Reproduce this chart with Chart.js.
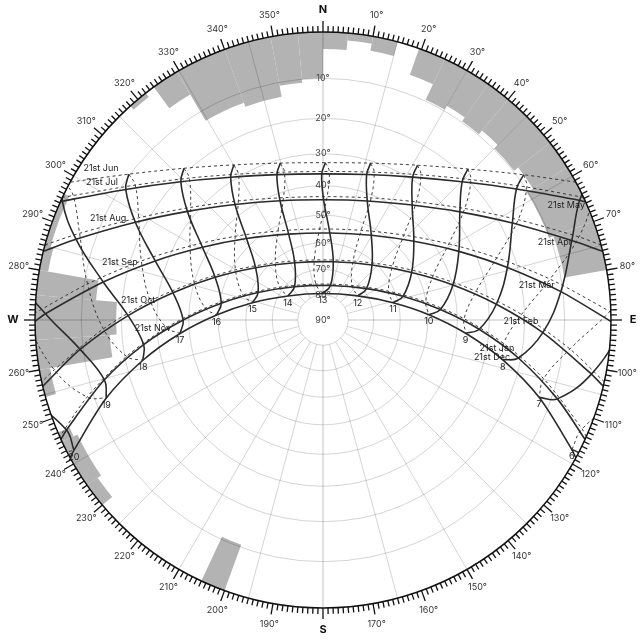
<!DOCTYPE html>
<html>
<head>
<meta charset="utf-8">
<script src="https://cdn.jsdelivr.net/npm/chart.js@4.4.1/dist/chart.umd.min.js"></script>
<style>
  html, body { margin: 0; background: #fff; }
  #wrap { width: 641px; height: 642px; }
</style>
</head>
<body>
<div id="wrap"><canvas id="chart" width="641" height="642"></canvas></div>
<script>
// Sun path diagram, stereographic projection: azimuth clockwise from north,
// altitude 0 on the outer circle and 90 in the centre.

const months = ["Jan", "Feb", "Mar", "Apr", "May", "Jun", "Jul", "Aug", "Sep", "Oct", "Nov", "Dec"];
const hours = [6, 7, 8, 9, 10, 11, 12, 13, 14, 15, 16, 17, 18, 19, 20];

// sun azimuth on the 21st of each month, one column per hour above
const sunAz = [
  [116.8, 108.6, 101.0, 93.4, 84.9, 73.5, 54.2, 12.2, 319.4, 293.0, 279.4, 270.0, 262.2, 254.7, 246.8],
  [110.0, 101.4, 93.3, 84.8, 74.9, 61.8, 41.7, 10.0, 333.7, 307.8, 291.6, 280.3, 271.3, 263.1, 254.8],
  [100.3, 91.7, 83.2, 74.1, 63.2, 49.1, 29.7, 4.5, 338.2, 316.8, 301.1, 289.4, 279.8, 271.3, 262.8],
  [88.8, 80.7, 72.3, 62.9, 51.7, 37.8, 20.4, 0.3, 340.2, 322.7, 308.7, 297.5, 288.1, 279.7, 271.6],
  [80.6, 73.1, 65.0, 55.9, 45.2, 32.1, 16.7, 359.5, 342.4, 327.1, 314.2, 303.5, 294.5, 286.6, 279.1],
  [77.8, 70.6, 62.9, 54.1, 43.8, 31.4, 16.9, 0.9, 344.8, 330.1, 317.5, 306.9, 298.0, 290.2, 283.0],
  [81.0, 73.6, 65.7, 56.9, 46.5, 34.0, 19.1, 2.4, 345.4, 329.9, 316.7, 305.7, 296.5, 288.5, 280.9],
  [88.3, 80.3, 72.0, 62.8, 51.8, 38.3, 21.5, 1.9, 342.1, 324.6, 310.4, 299.0, 289.6, 281.1, 273.1],
  [96.7, 88.3, 79.8, 70.3, 58.8, 43.6, 23.1, 357.9, 333.2, 313.6, 299.1, 288.0, 278.7, 270.2, 261.7],
  [104.9, 96.7, 88.4, 79.4, 68.1, 52.2, 27.0, 351.8, 320.2, 299.8, 286.3, 276.3, 267.7, 259.5, 251.0],
  [112.8, 104.9, 97.4, 89.5, 80.0, 66.2, 39.9, 348.7, 307.1, 287.4, 275.8, 267.2, 259.5, 251.9, 243.7],
  [117.5, 109.7, 102.5, 95.3, 87.1, 76.1, 55.2, 359.5, 304.4, 283.8, 272.7, 264.6, 257.4, 250.2, 242.4]
];
// sun altitude, same layout
const sunAlt = [
  [-2.8, 8.7, 20.7, 33.0, 45.5, 57.7, 68.9, 76.0, 72.7, 62.5, 50.6, 38.2, 25.7, 13.6, 1.8],
  [-9.1, 2.9, 15.2, 27.7, 39.9, 51.5, 61.3, 66.8, 65.0, 57.0, 46.1, 34.2, 21.8, 9.3, -2.9],
  [-14.3, -1.9, 10.5, 22.7, 34.3, 44.7, 52.6, 56.3, 54.4, 47.6, 37.9, 26.6, 14.5, 2.1, -10.3],
  [-18.9, -6.5, 5.6, 17.1, 27.6, 36.4, 42.4, 44.7, 42.5, 36.5, 27.8, 17.4, 5.9, -6.2, -18.6],
  [-22.7, -10.6, 1.0, 11.9, 21.5, 29.3, 34.4, 36.2, 34.2, 28.9, 20.9, 11.2, 0.3, -11.3, -23.5],
  [-25.4, -13.4, -2.0, 8.6, 18.0, 25.6, 30.7, 32.7, 31.1, 26.3, 18.9, 9.7, -0.8, -12.2, -24.1],
  [-25.2, -13.0, -1.4, 9.6, 19.4, 27.4, 33.0, 35.4, 34.1, 29.3, 21.8, 12.5, 1.8, -9.7, -21.7],
  [-20.5, -8.2, 3.9, 15.4, 25.9, 34.8, 41.0, 43.6, 41.9, 36.2, 27.8, 17.6, 6.2, -5.7, -18.1],
  [-12.2, 0.2, 12.6, 24.7, 35.9, 45.7, 52.6, 54.9, 51.8, 44.3, 34.3, 22.9, 10.8, -1.6, -14.0],
  [-3.8, 8.4, 20.8, 33.2, 45.2, 56.0, 64.1, 66.2, 61.0, 51.4, 40.0, 27.8, 15.3, 3.0, -9.0],
  [1.4, 13.2, 25.4, 37.8, 50.2, 62.1, 72.2, 75.5, 68.6, 57.5, 45.3, 32.9, 20.5, 8.5, -3.0],
  [1.5, 12.9, 24.8, 37.1, 49.6, 61.9, 73.3, 79.5, 73.2, 61.7, 49.4, 37.0, 24.7, 12.7, 1.4]
];
// sunrise / sunset azimuth on the 21st
const riseAz = [114.5, 103.3, 90.3, 76.2, 65.8, 61.4, 64.8, 74.9, 88.6, 102.4, 113.9, 118.6];
const setAz = [245.5, 256.7, 269.7, 283.8, 294.2, 298.6, 295.2, 285.1, 271.4, 257.6, 246.1, 241.4];

// horizon obstructions: azimuth from / to, top altitude
const shadeFrom = [0, 5, 10, 19.5, 25, 30, 35, 40, 45, 52, 58, 70, 200, 230, 235, 245, 254.5, 260, 266, 275, 280, 285, 318, 324, 329.5, 340, 349.5, 355];
const shadeTo   = [5, 10, 15, 25, 30, 35, 40, 45, 52, 58, 70, 80, 205, 235, 245, 247, 260, 266, 275, 280, 285, 296, 322, 329.5, 340, 349.5, 355, 360];
const shadeAlt  = [3.5, 1.5, 3, 5.8, 9.7, 8.7, 9.8, 8.7, 9.8, 8.6, 10.3, 9.2, 10.6, 2.6, 3.5, 2.6, 2.2, 16.8, 18.6, 13.3, 1.8, 1.2, 1, 5.5, 12.5, 13.5, 10.8, 10];

// where each date label sits (azimuth, altitude)
const labelAz  = [99.1, 90.3, 80.7, 71.4, 64.7, 304.4, 302.0, 295.4, 285.9, 276.2, 267.3, 102.4];
const labelAlt = [27.1, 21.0, 16.1, 9.3, 3.9, 3.9, 5.7, 10.9, 17.5, 24.3, 28.8, 28.0];

const rad = Math.PI / 180;
const FONT = "Inter, 'DejaVu Sans', sans-serif";

function proj(az, alt) {
  const r = Math.tan((90 - alt) / 2 * rad);
  return { x: r * Math.sin(az * rad), y: r * Math.cos(az * rad) };
}

// Dec 21 -> Jun 21 solid, Jun 21 -> Dec 21 dashed
const solidMonths = [11, 0, 1, 2, 3, 4, 5];
const dashMonths = [5, 6, 7, 8, 9, 10, 11];
const isSolid = m => m <= 4 || m === 11;

const lineStyle = solid => ({
  showLine: true, pointRadius: 0, borderColor: "#2b2b2b",
  borderWidth: solid ? 1.6 : 0.9, borderDash: solid ? [] : [3, 3]
});

const datasets = [];
months.forEach((name, m) => {
  const pts = [proj(riseAz[m], 0)];
  hours.forEach((h, i) => {
    if (sunAlt[m][i] > 0) pts.push(proj(sunAz[m][i], sunAlt[m][i]));
  });
  pts.push(proj(setAz[m], 0));
  datasets.push({ data: pts, tension: 0.3, ...lineStyle(isSolid(m)) });
});
hours.forEach((h, i) => {
  [solidMonths, dashMonths].forEach((list, k) => {
    datasets.push({
      data: list.map(m => proj(sunAz[m][i], sunAlt[m][i])),
      tension: 0.4, ...lineStyle(k === 0)
    });
  });
});

const frame = {
  id: "frame",
  beforeDatasetsDraw(chart) {
    const { ctx, scales: { x, y } } = chart;
    const cx = x.getPixelForValue(0), cy = y.getPixelForValue(0);
    const R = x.getPixelForValue(1) - cx;
    const rp = a => R * Math.tan((90 - a) / 2 * rad);
    ctx.save();
    ctx.fillStyle = "#b3b3b3";
    shadeFrom.forEach((a1, i) => {
      ctx.beginPath();
      ctx.arc(cx, cy, R, (a1 - 90) * rad, (shadeTo[i] - 90) * rad);
      ctx.arc(cx, cy, rp(shadeAlt[i]), (shadeTo[i] - 90) * rad, (a1 - 90) * rad, true);
      ctx.closePath();
      ctx.fill();
    });
    ctx.lineWidth = 1;
    ctx.strokeStyle = "rgba(0,0,0,0.17)";
    for (let a = 10; a <= 80; a += 10) {
      ctx.beginPath(); ctx.arc(cx, cy, rp(a), 0, 2 * Math.PI); ctx.stroke();
    }
    for (let az = 0; az < 360; az += 15) {
      const t = (az - 90) * rad;
      ctx.strokeStyle = az % 90 === 0 ? "rgba(0,0,0,0.24)" : "rgba(0,0,0,0.17)";
      ctx.beginPath();
      ctx.moveTo(cx + rp(80) * Math.cos(t), cy + rp(80) * Math.sin(t));
      ctx.lineTo(cx + R * Math.cos(t), cy + R * Math.sin(t));
      ctx.stroke();
    }
    ctx.fillStyle = "#444";
    ctx.font = "9px " + FONT;
    ctx.textAlign = "center";
    ctx.textBaseline = "middle";
    for (let a = 10; a <= 90; a += 10) ctx.fillText(a + "°", cx, cy - rp(a));
    ctx.restore();
    // keep the sun lines inside the horizon
    ctx.save();
    ctx.beginPath(); ctx.arc(cx, cy, R, 0, 2 * Math.PI); ctx.clip();
  },
  afterDatasetsDraw(chart) {
    const { ctx, scales: { x, y } } = chart;
    ctx.restore();
    const cx = x.getPixelForValue(0), cy = y.getPixelForValue(0);
    const R = x.getPixelForValue(1) - cx;
    ctx.save();
    ctx.strokeStyle = "#111";
    ctx.lineWidth = 1.5;
    ctx.beginPath(); ctx.arc(cx, cy, R, 0, 2 * Math.PI); ctx.stroke();
    ctx.lineWidth = 1.3;
    for (let d = 0; d < 360; d++) {
      const t = (d - 90) * rad, len = d % 10 === 0 ? 11 : 6;
      ctx.beginPath();
      ctx.moveTo(cx + R * Math.cos(t), cy + R * Math.sin(t));
      ctx.lineTo(cx + (R + len) * Math.cos(t), cy + (R + len) * Math.sin(t));
      ctx.stroke();
    }
    ctx.textAlign = "center";
    ctx.textBaseline = "middle";
    const card = { 0: "N", 90: "E", 180: "S", 270: "W" };
    for (let d = 0; d < 360; d += 10) {
      const t = (d - 90) * rad;
      if (card[d]) {
        ctx.font = "bold 11px " + FONT; ctx.fillStyle = "#111";
        ctx.fillText(card[d], cx + (R + 22) * Math.cos(t), cy + (R + 22) * Math.sin(t));
      } else {
        ctx.font = "9px " + FONT; ctx.fillStyle = "#333";
        ctx.fillText(d + "°", cx + (R + 21) * Math.cos(t), cy + (R + 21) * Math.sin(t));
      }
    }
    // hour numbers under the 21st Dec end of each hour loop
    ctx.font = "9px " + FONT;
    ctx.fillStyle = "#222";
    hours.forEach((h, i) => {
      if (sunAlt[11][i] <= 0) return;
      const p = proj(sunAz[11][i], sunAlt[11][i]);
      ctx.fillText(String(h), x.getPixelForValue(p.x), y.getPixelForValue(p.y) + 7);
    });
    months.forEach((name, m) => {
      const p = proj(labelAz[m], labelAlt[m]);
      ctx.fillText("21st " + name, x.getPixelForValue(p.x), y.getPixelForValue(p.y));
    });
    ctx.restore();
  }
};

new Chart(document.getElementById("chart"), {
  type: "scatter",
  data: { datasets },
  options: {
    responsive: false,
    animation: false,
    layout: { padding: { left: 35, right: 30, top: 32, bottom: 34 } },
    scales: {
      x: { type: "linear", min: -1, max: 1, display: false },
      y: { type: "linear", min: -1, max: 1, display: false }
    },
    plugins: { legend: { display: false }, tooltip: { enabled: false } }
  },
  plugins: [frame]
});
</script>
</body>
</html>
